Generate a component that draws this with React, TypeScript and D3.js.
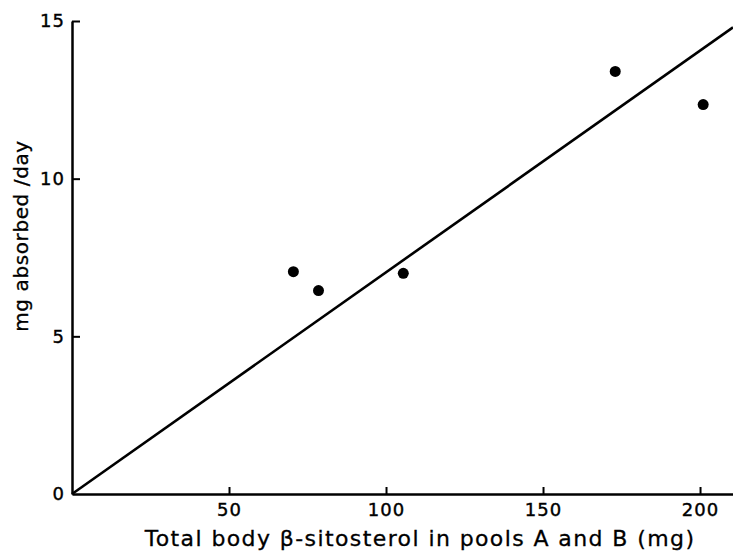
import React, { useEffect, useRef } from "react"
import * as d3 from "d3"

// total body beta-sitosterol (mg) vs mg absorbed per day
const poolTotal = [70.5, 78.5, 105.5, 173, 201]
const absorbed = [7.05, 6.45, 7.0, 13.4, 12.35]
const xTicks = [50, 100, 150, 200]
const yTicks = [0, 5, 10, 15]
const fitSlope = [0.0703]

const W = 733
const H = 552

export default function App() {
  const ref = useRef<SVGSVGElement>(null)

  useEffect(() => {
    const svg = d3.select(ref.current)
    svg.selectAll("*").remove()

    const x = d3.scaleLinear().domain([0, 210.5]).range([72, 733])
    const y = d3.scaleLinear().domain([0, 15]).range([494, 21])
    const font = "'DejaVu Sans', Arial, sans-serif"

    const xAxis = d3.axisBottom(x).tickValues(xTicks).tickSize(-7).tickSizeOuter(0).tickPadding(9)
    const yAxis = d3.axisLeft(y).tickValues(yTicks).tickSize(-8).tickSizeOuter(0).tickPadding(7)

    const gx = svg.append("g").attr("transform", "translate(0," + y(0) + ")").call(xAxis)
    const gy = svg.append("g").attr("transform", "translate(" + x(0) + ",0)").call(yAxis)

    for (const g of [gx, gy]) {
      g.select(".domain").attr("stroke", "#000").attr("stroke-width", 2.5)
      g.selectAll(".tick line").attr("stroke", "#000").attr("stroke-width", 2)
      g.selectAll(".tick text")
        .attr("fill", "#000")
        .attr("stroke", "#000")
        .attr("stroke-width", 0.4)
        .style("font-family", font)
        .style("font-size", "18px")
        .style("letter-spacing", "1px")
    }
    // the y-axis zero tick sits on the x-axis, hide its stub
    gy.selectAll(".tick line").filter((d: any) => d === 0).remove()

    // fitted line through the origin
    const line = d3.line<number>().x(d => x(d)).y(d => y(d * fitSlope[0]))
    svg.append("path")
      .attr("d", line([0, 210.5]))
      .attr("fill", "none")
      .attr("stroke", "#000")
      .attr("stroke-width", 2.6)

    svg.append("g")
      .selectAll("circle")
      .data(poolTotal)
      .enter()
      .append("circle")
      .attr("cx", d => x(d))
      .attr("cy", (d, i) => y(absorbed[i]))
      .attr("r", 5.5)
      .attr("fill", "#000")

    svg.append("text")
      .text("Total body \u03B2-sitosterol in pools A and B (mg)")
      .attr("x", 420)
      .attr("y", 546)
      .attr("text-anchor", "middle")
      .attr("stroke", "#000")
      .attr("stroke-width", 0.3)
      .style("font-family", font)
      .style("font-size", "22px")
      .style("letter-spacing", "1.4px")

    svg.append("text")
      .text("mg absorbed /day")
      .attr("transform", "translate(28,236) rotate(-90)")
      .attr("text-anchor", "middle")
      .attr("stroke", "#000")
      .attr("stroke-width", 0.3)
      .style("font-family", font)
      .style("font-size", "20px")
      .style("letter-spacing", "0.6px")
  }, [])

  return (
    <svg
      ref={ref}
      width={W}
      height={H}
      style={{ position: "absolute", left: 0, top: 0, background: "#fff" }}
    />
  )
}
